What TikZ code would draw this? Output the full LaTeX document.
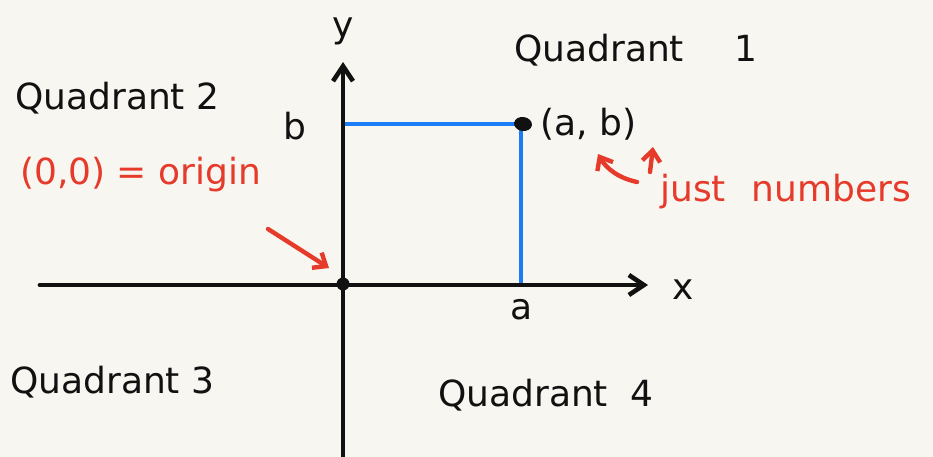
\documentclass[tikz,border=0pt]{standalone}
\usepackage{fontspec}
\setmainfont{DejaVu Sans}
\usetikzlibrary{arrows.meta,shapes.geometric}
\definecolor{paper}{HTML}{F8F6F1}
\definecolor{ink}{HTML}{111111}
\definecolor{penblue}{HTML}{1B7CF4}
\definecolor{penred}{HTML}{E63A2A}
\begin{document}
\begin{tikzpicture}[x=1pt,y=-1pt,
  axis/.style={draw=ink,line width=4.8pt,line cap=round,-{Straight Barb[length=15pt,width=20pt,line width=4.6pt]}},
  guide/.style={draw=penblue,line width=4.6pt},
  note/.style={draw=penred,line width=4.4pt,line cap=round,-{Straight Barb[length=11pt,width=18pt,line width=4.4pt]}},
  lbl/.style={text=ink,font=\fontsize{36}{40}\selectfont,inner sep=0pt},
  rlbl/.style={text=penred,font=\fontsize{36}{40}\selectfont,inner sep=0pt},
  dot/.style={circle,fill=ink,inner sep=0pt,minimum size=13pt}]
\fill[paper] (0,0) rectangle (933,457);
\useasboundingbox (0,0) rectangle (933,457);
% axes
\coordinate (xs) at (40,285);
\coordinate (xe) at (648,285);
\coordinate (ys) at (343,460);
\coordinate (ye) at (343,62);
\coordinate (A) at (521,285);
\coordinate (B) at (343,124);
\coordinate (Pc) at (521,124);
\draw[guide] (B) -- (Pc) -- (A);
\draw[axis] (xs) -- (xe);
\draw[axis] (ys) -- (ye);
\node[dot] (O) at (343,284) {};
\node[ellipse,fill=ink,inner sep=0pt,minimum width=18pt,minimum height=14pt,rotate=-8] (P) at (523,124) {};
\node[lbl] (xl) at (683,290) {x};
\node[lbl] (yl) at (343,31) {y};
\node[lbl] (bl) at (295,126) {b};
\node[lbl] (al) at (522,310) {a};
\node[lbl,anchor=west] (pl) at (540,124) {(a, b)};
% quadrants
\node[lbl,anchor=west] (q1) at (514,50) {Quadrant\hspace{50pt}1};
\node[lbl,anchor=west] (q2) at (15,98) {Quadrant 2};
\node[lbl,anchor=west] (q3) at (10,382) {Quadrant 3};
\node[lbl,anchor=west] (q4) at (438,395) {Quadrant\hspace{22pt}4};
% red notes
\node[rlbl,anchor=west] (orig) at (20,175) {(0,0) = origin};
\coordinate (oa) at (268,229);
\draw[note] (oa) -- (329,268);
\node[rlbl,anchor=west] (jn) at (660,192) {just\hspace{26pt}numbers};
\coordinate (c1) at (637,182);
\coordinate (c2) at (650,172);
\draw[note] (c1) .. controls (618,178) and (606,168) .. (598,154);
\draw[note] (c2) -- (653,147);
\end{tikzpicture}
\end{document}
